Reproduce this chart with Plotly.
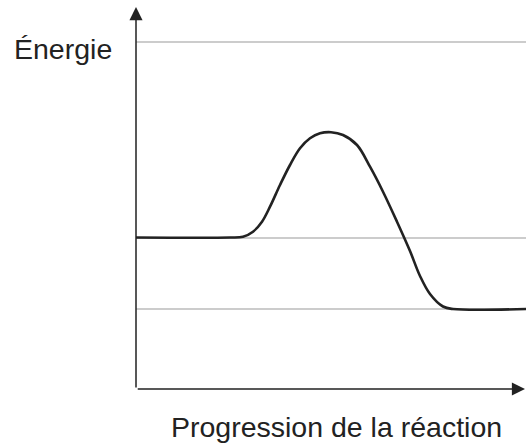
import plotly.graph_objects as graph_objects

# Reaction progress (arbitrary units) and energy profile
progress = [0.0, 0.94, 1.07, 1.17, 1.26, 1.34, 1.44, 1.54, 1.64, 1.74, 1.84, 1.95,
            2.07, 2.21, 2.34, 2.47, 2.61, 2.74, 2.84, 2.94, 3.07, 3.17, 3.90]
energy = [1.515, 1.515, 1.523, 1.573, 1.673, 1.823, 2.04, 2.24, 2.407, 2.507, 2.557, 2.568,
          2.54, 2.44, 2.223, 1.973, 1.673, 1.38, 1.13, 0.95, 0.825, 0.80, 0.80]

# Horizontal reference levels (products, reactants, top)
levels = [0.80, 1.515, 3.47]

y_label = "Énergie"
x_label = "Progression de la réaction"

fig = graph_objects.Figure()

fig.add_trace(
    graph_objects.Scatter(x=progress, y=energy, mode="lines",
                          line=dict(color="#222222", width=2.6, shape="spline", smoothing=1.0),
                          hoverinfo="skip", showlegend=False)
)

fig.update_layout(
    width=526,
    height=448,
    margin=dict(l=136, r=0, t=0, b=59),
    plot_bgcolor="white",
    paper_bgcolor="white",
    font=dict(family="Liberation Sans, Arial, sans-serif", size=28.5, color="#222222"),
    xaxis=dict(range=[0, 3.9], showgrid=False, zeroline=False, showticklabels=False,
               ticks="", showline=False),
    yaxis=dict(range=[0, 3.89], tickvals=levels, showgrid=True, gridcolor="#cccccc",
               gridwidth=1.5, zeroline=False, showticklabels=False, ticks="", showline=False),
)

# axes drawn as arrows
arrow_style = dict(showarrow=True, arrowhead=2, arrowsize=1.75, arrowwidth=1.5,
                   arrowcolor="#222222", text="", xref="paper", yref="paper")
fig.add_annotation(x=0, y=0.982, ax=0, ay=382, **arrow_style)
fig.add_annotation(x=0.998, y=0, ax=-389, ay=0, **arrow_style)

fig.add_annotation(text=y_label, xref="paper", yref="paper", x=-0.186, y=0.873,
                   xanchor="center", yanchor="middle", showarrow=False)
fig.add_annotation(text=x_label, xref="paper", yref="paper", x=0.513, y=-0.098,
                   xanchor="center", yanchor="middle", showarrow=False)

fig.write_html("out.html", config={"displayModeBar": False},
               post_script="document.body.style.margin = '0';")
